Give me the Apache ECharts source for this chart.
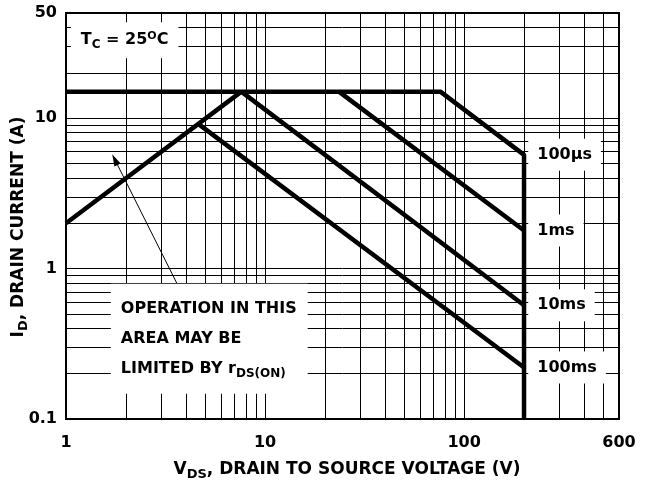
<!DOCTYPE html>
<html>
<head>
<meta charset="utf-8">
<script src="https://cdn.jsdelivr.net/npm/echarts@6/dist/echarts.min.js"></script>
<style>
html, body { margin: 0; padding: 0; background: #fff; }
#chart { width: 649px; height: 490px; }
</style>
</head>
<body>
<div id="chart"></div>
<script>
// safe operating area, points are [V_DS (V), I_D (A)]
const limit100us = [[1, 15], [76, 15], [200, 5.7], [200, 0.1]];
const limitRds = [[1, 2], [7.6, 15]];
const limit1ms = [[23.5, 15], [200, 1.79]];
const limit10ms = [[7.6, 15], [200, 0.57]];
const limit100ms = [[4.6, 9.2], [200, 0.22]];
const pulseNames = ['100µs', '1ms', '10ms', '100ms'];

// log grid lines
const xGridValues = [2, 3, 4, 5, 6, 7, 8, 9, 10, 20, 30, 40, 50, 60, 70, 80, 90, 100, 200, 300, 400, 500];
const yGridValues = [0.2, 0.3, 0.4, 0.5, 0.6, 0.7, 0.8, 0.9, 1, 2, 3, 4, 5, 6, 7, 8, 9, 10, 20, 30, 40];

const FONT = 'DejaVu Sans';
const chart = echarts.init(document.getElementById('chart'));

const txt = { fontFamily: FONT, fontWeight: 'bold', color: '#000' };
const rich = {
    n: Object.assign({ fontSize: 16, lineHeight: 20 }, txt),
    s: Object.assign({ fontSize: 12, lineHeight: 14, padding: [9, 0, 0, 0] }, txt),
    p: Object.assign({ fontSize: 11, lineHeight: 12, padding: [0, 0, 9, 0] }, txt)
};
const nameRich = {
    n: Object.assign({ fontSize: 17, lineHeight: 20 }, txt),
    s: Object.assign({ fontSize: 13, lineHeight: 14, padding: [9, 0, 0, 0] }, txt)
};
const boxRich = {
    n: Object.assign({ fontSize: 16, lineHeight: 30 }, txt),
    s: Object.assign({ fontSize: 12, lineHeight: 14, padding: [10, 0, 0, 0] }, txt)
};

function endLabel(data, text) {
    const last = data[data.length - 1][1] > 0.1 ? data[data.length - 1] : data[data.length - 2];
    return {
        symbol: 'rect',
        symbolSize: 0,
        silent: true,
        data: [{
            coord: [210, last[1]],
            label: {
                show: true,
                position: 'right',
                distance: 0,
                formatter: text,
                fontFamily: FONT,
                fontWeight: 'bold',
                fontSize: 16,
                color: '#000',
                backgroundColor: '#fff',
                padding: [8, 9]
            }
        }]
    };
}

function curve(data, text) {
    return {
        type: 'line',
        data: data,
        showSymbol: false,
        z: 4,
        lineStyle: { color: '#000', width: 4.5 },
        itemStyle: { color: '#000' },
        animation: false,
        markPoint: text ? endLabel(data, text) : undefined
    };
}

const rdsSeries = curve(limitRds);
rdsSeries.markPoint = {
    symbol: 'rect',
    symbolSize: 0,
    silent: true,
    data: [{
        coord: [1.68, 0.341],
        label: {
            show: true,
            position: 'inside',
            align: 'left',
            formatter: 'OPERATION IN THIS\nAREA MAY BE\nLIMITED BY {n|r}{s|DS(ON)}',
            fontFamily: FONT,
            fontWeight: 'bold',
            fontSize: 16,
            lineHeight: 30,
            color: '#000',
            backgroundColor: '#fff',
            padding: [10, 11, 10, 10],
            rich: boxRich
        }
    }, {
        coord: [1.97, 33],
        label: {
            show: true,
            position: 'inside',
            formatter: '{n|T}{s|C}{n| = 25}{p|O}{n|C}',
            backgroundColor: '#fff',
            padding: [8, 10],
            rich: rich
        }
    }]
};
rdsSeries.markLine = {
    silent: true,
    symbol: ['none', 'triangle'],
    symbolSize: [7, 12],
    label: { show: false },
    lineStyle: { color: '#000', width: 1, type: 'solid' },
    data: [[{ coord: [3.83, 0.68] }, { coord: [1.76, 5.3] }]]
};

const gridSeries = {
    type: 'line',
    data: [],
    z: 1,
    markLine: {
        silent: true,
        symbol: 'none',
        animation: false,
        label: { show: false },
        lineStyle: { color: '#000', width: 1, type: 'solid' },
        data: xGridValues.map(v => ({ xAxis: v })).concat(yGridValues.map(v => ({ yAxis: v })))
    }
};

const option = {
    animation: false,
    backgroundColor: '#fff',
    grid: {
        left: 66, right: 30, top: 13, bottom: 71,
        outerBoundsMode: 'none',
        containLabel: false,
        show: true, borderColor: '#000', borderWidth: 2, backgroundColor: 'transparent'
    },
    xAxis: {
        type: 'log',
        logBase: 10,
        min: 1,
        max: 600,
        name: '{n|V}{s|DS}{n|, DRAIN TO SOURCE VOLTAGE (V)}',
        nameLocation: 'middle',
        nameGap: 41,
        nameMoveOverlap: false,
        nameTextStyle: { rich: nameRich, padding: [0, 0, 0, 9] },
        axisLine: { lineStyle: { color: '#000', width: 2 } },
        axisTick: { show: false },
        splitLine: { show: false },
        axisLabel: { fontFamily: FONT, fontWeight: 'bold', fontSize: 16, color: '#000', margin: 16 }
    },
    yAxis: {
        type: 'log',
        logBase: 10,
        min: 0.1,
        max: 50,
        name: '{n|I}{s|D}{n|, DRAIN CURRENT (A)}',
        nameLocation: 'middle',
        nameGap: 37,
        nameMoveOverlap: false,
        nameTextStyle: { rich: nameRich, padding: [0, 22, 0, 0] },
        axisLine: { show: true, lineStyle: { color: '#000', width: 2 } },
        axisTick: { show: false },
        splitLine: { show: false },
        axisLabel: { fontFamily: FONT, fontWeight: 'bold', fontSize: 16, color: '#000', margin: 9 }
    },
    series: [
        gridSeries,
        rdsSeries,
        curve(limit100us, pulseNames[0]),
        curve(limit1ms, pulseNames[1]),
        curve(limit10ms, pulseNames[2]),
        curve(limit100ms, pulseNames[3])
    ]
};
chart.setOption(option);
</script>
</body>
</html>
